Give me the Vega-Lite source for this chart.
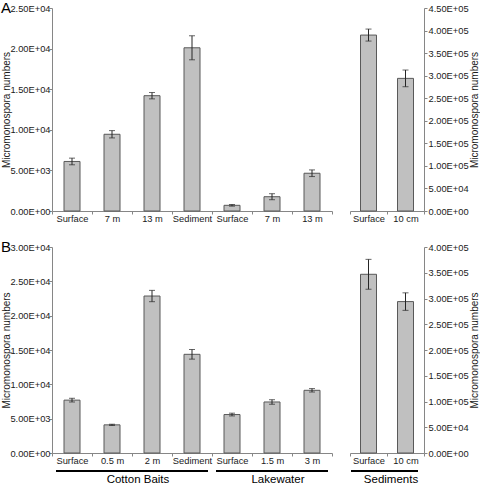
{
  "$schema": "https://vega.github.io/schema/vega-lite/v6.json",
  "padding": {"left": 0, "top": 1, "right": 0, "bottom": 0},
  "background": "white",
  "config": {
    "font": "Liberation Sans",
    "view": {"stroke": null},
    "axis": {
      "domainColor": "#868686",
      "tickColor": "#868686",
      "labelColor": "#1a1a1a",
      "titleColor": "#1a1a1a",
      "labelFontSize": 9.3,
      "titleFontSize": 10,
      "titleFontWeight": "normal",
      "grid": false,
      "tickSize": 3,
      "labelPadding": 0
    },
    "title": {"fontSize": 15, "fontWeight": "normal", "color": "#000000", "anchor": "start", "frame": "bounds"}
  },
  "datasets": {
    "bars": [
      {"panel": "A", "site": "Cotton Baits", "key": "Cotton Baits|Surface", "mean": 6100, "err": 410},
      {"panel": "A", "site": "Cotton Baits", "key": "Cotton Baits|7 m", "mean": 9450, "err": 450},
      {"panel": "A", "site": "Cotton Baits", "key": "Cotton Baits|13 m", "mean": 14200, "err": 390},
      {"panel": "A", "site": "Cotton Baits", "key": "Cotton Baits|Sediment", "mean": 20100, "err": 1480},
      {"panel": "A", "site": "Lakewater", "key": "Lakewater|Surface", "mean": 700, "err": 100},
      {"panel": "A", "site": "Lakewater", "key": "Lakewater|7 m", "mean": 1760, "err": 370},
      {"panel": "A", "site": "Lakewater", "key": "Lakewater|13 m", "mean": 4650, "err": 410},
      {"panel": "A", "site": "Sediments", "key": "Sediments|Surface", "mean": 390000, "err": 13300},
      {"panel": "A", "site": "Sediments", "key": "Sediments|10 cm", "mean": 294000, "err": 18500},
      {"panel": "B", "site": "Cotton Baits", "key": "Cotton Baits|Surface", "mean": 7700, "err": 270},
      {"panel": "B", "site": "Cotton Baits", "key": "Cotton Baits|0.5 m", "mean": 4100, "err": 90},
      {"panel": "B", "site": "Cotton Baits", "key": "Cotton Baits|2 m", "mean": 22860, "err": 825},
      {"panel": "B", "site": "Cotton Baits", "key": "Cotton Baits|Sediment", "mean": 14370, "err": 700},
      {"panel": "B", "site": "Lakewater", "key": "Lakewater|Surface", "mean": 5600, "err": 200},
      {"panel": "B", "site": "Lakewater", "key": "Lakewater|1.5 m", "mean": 7430, "err": 330},
      {"panel": "B", "site": "Lakewater", "key": "Lakewater|3 m", "mean": 9130, "err": 250},
      {"panel": "B", "site": "Sediments", "key": "Sediments|Surface", "mean": 347000, "err": 29000},
      {"panel": "B", "site": "Sediments", "key": "Sediments|10 cm", "mean": 294000, "err": 17000}
    ],
    "groups": [
      {"side": "left", "group": "Cotton Baits", "start": 0, "end": 4},
      {"side": "left", "group": "Lakewater", "start": 4, "end": 7},
      {"side": "right", "group": "Sediments", "start": 0, "end": 2}
    ]
  },
  "spacing": 16,
  "vconcat": [
    {
      "title": {"text": "A", "offset": -12, "dx": -1},
      "spacing": 16,
      "hconcat": [
        {
          "width": 280, "height": 203,
          "data": {"name": "bars"},
          "transform": [{"filter": "datum.panel === 'A' && datum.site !== 'Sediments'"}],
          "encoding": {
            "x": {"field": "key", "type": "nominal", "sort": null, "scale": {"paddingInner": 0, "paddingOuter": 0},
                  "axis": {"title": null, "labelExpr": "split(datum.value, '|')[1]", "labelAngle": 0, "tickBand": "extent"}},
            "y": {"field": "mean", "type": "quantitative", "scale": {"domain": [0, 25000]},
                  "axis": {"title": "Micromonospora numbers", "values": [0, 5000, 10000, 15000, 20000, 25000], "titlePadding": -2, "labelPadding": -1,
                           "labelExpr": "replace(upper(format(datum.value, '.2e')), 'E+', 'E+0')"}}
          },
          "layer": [
            {"mark": {"type": "bar", "width": 16, "fill": "#c0c0c0", "stroke": "#595959", "strokeWidth": 1}},
            {"mark": {"type": "errorbar", "ticks": {"size": 6}, "color": "#262626", "thickness": 1},
             "encoding": {"yError": {"field": "err"}}}
          ]
        },
        {
          "width": 74, "height": 203,
          "data": {"name": "bars"},
          "transform": [{"filter": "datum.panel === 'A' && datum.site === 'Sediments'"}],
          "encoding": {
            "x": {"field": "key", "type": "nominal", "sort": null, "scale": {"paddingInner": 0, "paddingOuter": 0},
                  "axis": {"title": null, "labelExpr": "split(datum.value, '|')[1]", "labelAngle": 0, "tickBand": "extent"}},
            "y": {"field": "mean", "type": "quantitative", "scale": {"domain": [0, 450000]},
                  "axis": {"orient": "right", "title": "Micromonospora numbers", "titleAngle": 270, "titleBaseline": "top", "titlePadding": 1,
                           "values": [0, 50000, 100000, 150000, 200000, 250000, 300000, 350000, 400000, 450000],
                           "labelPadding": 1,
                           "labelExpr": "replace(upper(format(datum.value, '.2e')), 'E+', 'E+0')"}}
          },
          "layer": [
            {"mark": {"type": "bar", "width": 16, "fill": "#c0c0c0", "stroke": "#595959", "strokeWidth": 1}},
            {"mark": {"type": "errorbar", "ticks": {"size": 6}, "color": "#262626", "thickness": 1},
             "encoding": {"yError": {"field": "err"}}}
          ]
        }
      ]
    },
    {
      "spacing": 3,
      "vconcat": [
        {
          "title": {"text": "B", "offset": -12, "dx": -1},
          "spacing": 16,
          "hconcat": [
            {
              "width": 280, "height": 206,
              "data": {"name": "bars"},
              "transform": [{"filter": "datum.panel === 'B' && datum.site !== 'Sediments'"}],
              "encoding": {
                "x": {"field": "key", "type": "nominal", "sort": null, "scale": {"paddingInner": 0, "paddingOuter": 0},
                      "axis": {"title": null, "labelExpr": "split(datum.value, '|')[1]", "labelAngle": 0, "tickBand": "extent"}},
                "y": {"field": "mean", "type": "quantitative", "scale": {"domain": [0, 30000]},
                      "axis": {"title": "Micromonospora numbers", "values": [0, 5000, 10000, 15000, 20000, 25000, 30000], "titlePadding": -2, "labelPadding": -1,
                               "labelExpr": "replace(upper(format(datum.value, '.2e')), 'E+', 'E+0')"}}
              },
              "layer": [
                {"mark": {"type": "bar", "width": 16, "fill": "#c0c0c0", "stroke": "#595959", "strokeWidth": 1}},
                {"mark": {"type": "errorbar", "ticks": {"size": 6}, "color": "#262626", "thickness": 1},
                 "encoding": {"yError": {"field": "err"}}}
              ]
            },
            {
              "width": 74, "height": 206,
              "data": {"name": "bars"},
              "transform": [{"filter": "datum.panel === 'B' && datum.site === 'Sediments'"}],
              "encoding": {
                "x": {"field": "key", "type": "nominal", "sort": null, "scale": {"paddingInner": 0, "paddingOuter": 0},
                      "axis": {"title": null, "labelExpr": "split(datum.value, '|')[1]", "labelAngle": 0, "tickBand": "extent"}},
                "y": {"field": "mean", "type": "quantitative", "scale": {"domain": [0, 400000]},
                      "axis": {"orient": "right", "title": "Micromonospora numbers", "titleAngle": 270, "titleBaseline": "top", "titlePadding": 1,
                               "values": [0, 50000, 100000, 150000, 200000, 250000, 300000, 350000, 400000],
                               "labelPadding": 1,
                               "labelExpr": "replace(upper(format(datum.value, '.2e')), 'E+', 'E+0')"}}
              },
              "layer": [
                {"mark": {"type": "bar", "width": 16, "fill": "#c0c0c0", "stroke": "#595959", "strokeWidth": 1}},
                {"mark": {"type": "errorbar", "ticks": {"size": 6}, "color": "#262626", "thickness": 1},
                 "encoding": {"yError": {"field": "err"}}}
              ]
            }
          ]
        },
        {
          "spacing": 16,
          "hconcat": [
            {
              "width": 280, "height": 4,
              "data": {"name": "groups"},
              "transform": [{"filter": "datum.side === 'left'"}, {"calculate": "(datum.start + datum.end) / 2", "as": "mid"}],
              "layer": [
                {"mark": {"type": "rule", "color": "#000000", "strokeWidth": 2, "xOffset": 4, "x2Offset": -4},
                 "encoding": {"x": {"field": "start", "type": "quantitative", "scale": {"domain": [0, 7]}, "axis": null},
                              "x2": {"field": "end"}}},
                {"mark": {"type": "text", "fontSize": 11.5, "baseline": "middle", "dy": 9, "dx": 6, "color": "#000000"},
                 "encoding": {"x": {"field": "mid", "type": "quantitative"}, "text": {"field": "group"}}}
              ]
            },
            {
              "width": 74, "height": 4,
              "data": {"name": "groups"},
              "transform": [{"filter": "datum.side === 'right'"}, {"calculate": "(datum.start + datum.end) / 2", "as": "mid"}],
              "layer": [
                {"mark": {"type": "rule", "color": "#000000", "strokeWidth": 2, "xOffset": 3, "x2Offset": -4},
                 "encoding": {"x": {"field": "start", "type": "quantitative", "scale": {"domain": [0, 2]}, "axis": null},
                              "x2": {"field": "end"}}},
                {"mark": {"type": "text", "fontSize": 11.5, "baseline": "middle", "dy": 9, "dx": 6, "color": "#000000"},
                 "encoding": {"x": {"field": "mid", "type": "quantitative"}, "text": {"field": "group"}}}
              ]
            }
          ]
        }
      ]
    }
  ]
}
